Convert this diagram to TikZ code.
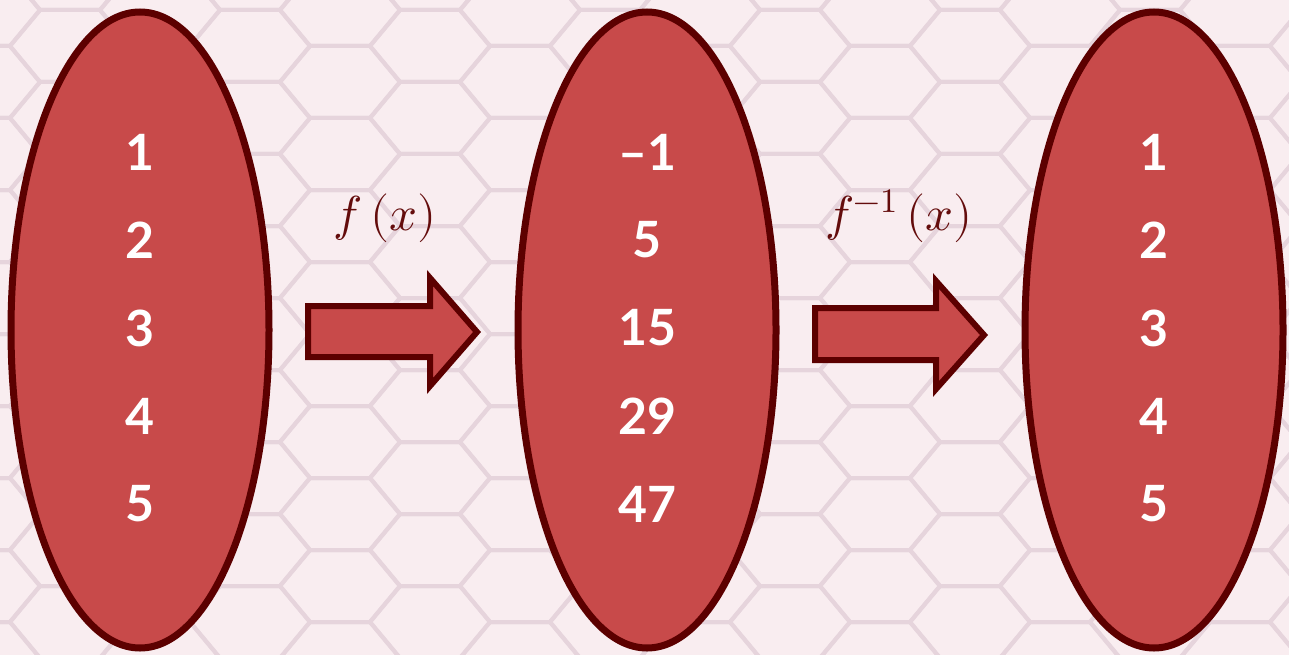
\documentclass[tikz,border=0pt]{standalone}
\usepackage{fontspec}
\usepackage{unicode-math}
\setmainfont{Lato}
\setmathfont{Latin Modern Math}
\usetikzlibrary{shapes.geometric}
\definecolor{bgc}{RGB}{249,237,240}
\definecolor{hexc}{RGB}{230,212,220}
\definecolor{fillc}{RGB}{200,74,74}
\definecolor{edgec}{RGB}{92,0,0}
\definecolor{labc}{RGB}{100,12,12}
\tikzset{
  setbox/.style={ellipse, draw=edgec, fill=fillc, line width=7pt, minimum width=258pt, minimum height=636pt, inner sep=0pt},
  num/.style={text=white, font=\fontsize{50}{50}\selectfont\bfseries, inner sep=0pt},
  blockarrow/.style={draw=edgec, fill=fillc, line width=6pt, line join=miter, miter limit=10},
  flabel/.style={text=labc, font=\fontsize{49}{49}\selectfont, inner sep=0pt}
}
\begin{document}
\begin{tikzpicture}[x=1pt,y=-1pt]
\useasboundingbox (0,0) rectangle (1289,655);
\fill[bgc] (0,0) rectangle (1289,655);
\begin{scope}
\clip (0,0) rectangle (1289,655);
\foreach \i in {-1,...,15} {
  \foreach \j in {-1,...,9} {
    \pgfmathsetmacro\cx{\i*90-20}
    \pgfmathsetmacro\cy{\j*72+mod(\i+2,2)*36+10}
    \draw[hexc, line width=4pt] (\cx+60,\cy) -- (\cx+30,\cy+36) -- (\cx-30,\cy+36) -- (\cx-60,\cy) -- (\cx-30,\cy-36) -- (\cx+30,\cy-36) -- cycle;
  }
}
\end{scope}

\node[setbox] (A) at (140,330) {};
\node[setbox] (B) at (647,330) {};
\node[setbox] (C) at (1154,330) {};

\foreach \t [count=\k] in {1,2,3,4,5} {
  \node[num] (a\k) at (140,{64+88*\k}) {\t};
}
\foreach \t [count=\k] in {–1,5,15,29,47} {
  \node[num] (b\k) at (647,{64+88*\k}) {\t};
}
\foreach \t [count=\k] in {1,2,3,4,5} {
  \node[num] (c\k) at (1154,{64+88*\k}) {\t};
}

\draw[blockarrow] (308,306) -- (430,306) -- (430,278) -- (477,332) -- (430,386) -- (430,357) -- (308,357) -- cycle;
\draw[blockarrow] (815,308) -- (936,308) -- (936,281) -- (984,335) -- (936,389) -- (936,360) -- (815,360) -- cycle;

\node[flabel] (f1) at (385,218) {$f\,(x)$};
\node[flabel] (f2) at (899,216) {$f^{-1}\,(x)$};
\end{tikzpicture}
\end{document}
